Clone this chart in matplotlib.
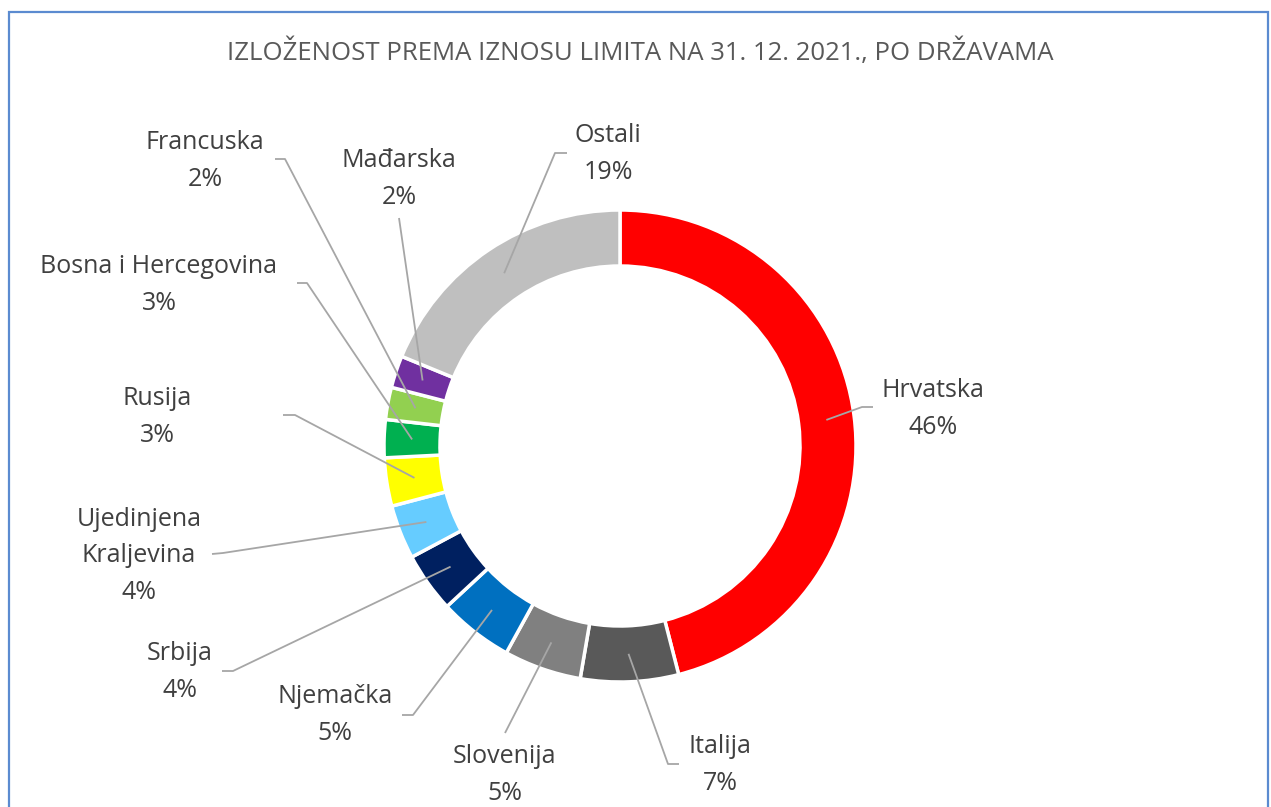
import numpy as np
import matplotlib
matplotlib.use('Agg')
import matplotlib.pyplot as plt
from matplotlib.patches import Rectangle

W, H = 1271, 807

# podaci (udio u %)
drzave = ['Hrvatska', 'Italija', 'Slovenija', 'Njemačka', 'Srbija',
          'Ujedinjena\nKraljevina', 'Rusija', 'Bosna i Hercegovina',
          'Francuska', 'Mađarska', 'Ostali']
udjeli = [46.0, 6.7, 5.3, 5.1, 4.1, 3.7, 3.3, 2.6, 2.2, 2.2, 18.8]
boje = ['#FF0000', '#595959', '#808080', '#0070C0', '#002060', '#66CCFF',
        '#FFFF00', '#00B050', '#92D050', '#7030A0', '#BFBFBF']

# polozaj natpisa (px, y prema dolje) i tocke loma linije
label_xy = [(933, 409), (720, 765), (505, 775), (335, 715), (180, 672),
            (139, 556), (157, 417), (159, 285), (205, 161), (399, 179),
            (608, 154)]
line_pts = [[(873, 407), (862, 407)],
            [(679, 764), (668, 764)],
            [(505, 733)],
            [(402, 715), (413, 715)],
            [(222, 671), (233, 671)],
            [(212, 554), (223, 553)],
            [(283, 415), (295, 415)],
            [(297, 283), (307, 283)],
            [(275, 159), (285, 159)],
            [(399, 218)],
            [(567, 153), (555, 153)]]

plt.rcParams['font.family'] = ['Open Sans', 'DejaVu Sans']

fig = plt.figure(figsize=(W / 100, H / 100), dpi=100)
ax = fig.add_axes([0, 0, 1, 1])

cx, cy, R, sirina = 620, H - 446, 236, 56
wedges, _ = ax.pie(udjeli, colors=boje, startangle=90, counterclock=False,
                   radius=R, center=(cx, cy), frame=True,
                   wedgeprops=dict(width=sirina, edgecolor='white', linewidth=2.5))
ax.set_xlim(0, W)
ax.set_ylim(0, H)
ax.set_aspect('equal')
ax.axis('off')

for w, ime, u, (lx, ly), pts in zip(wedges, drzave, udjeli, label_xy, line_pts):
    kut = np.deg2rad((w.theta1 + w.theta2) / 2)
    r_mid = R - sirina / 2
    ax_x = cx + r_mid * np.cos(kut)
    ax_y = cy + r_mid * np.sin(kut)
    xs = [p[0] for p in pts] + [ax_x]
    ys = [H - p[1] for p in pts] + [ax_y]
    ax.plot(xs, ys, color='#A6A6A6', lw=1.3, solid_capstyle='butt')
    ax.text(lx, H - ly, f'{ime}\n{round(u):.0f}%', ha='center', va='center',
            fontsize=18, color='#404040', linespacing=1.58)

fig.text(640 / W, 1 - 52 / H, 'IZLOŽENOST PREMA IZNOSU LIMITA NA 31. 12. 2021., PO DRŽAVAMA',
         ha='center', va='center', fontsize=18.5, color='#595959')

fig.patches.append(Rectangle((9 / W, -0.05), 1259 / W, 1.05 - 12 / H,
                             transform=fig.transFigure, fill=False,
                             edgecolor='#5B8BD0', lw=1.6))

fig.savefig('out.png', dpi=100)
